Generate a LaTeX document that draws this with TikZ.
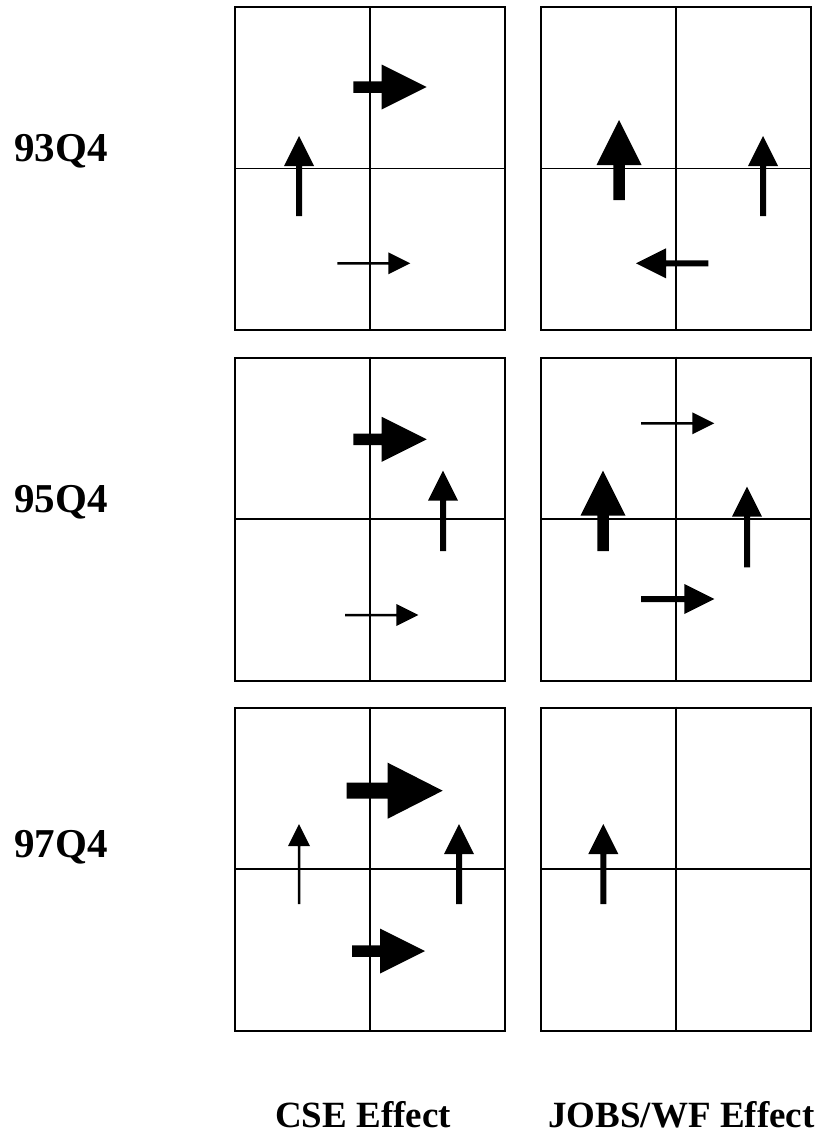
\documentclass[tikz,border=0pt]{standalone}
\usepackage{fontspec}
\setmainfont{Liberation Serif}
% block arrow: tail (#1,#2), direction #3 (degrees), total length #4,
% shaft width #5, head half-width #6, head length #7
\newcommand{\blockarrow}[7]{%
  \fill[arrowbody, shift={(#1,#2)}, rotate=#3]
    (0,{-#5/2}) -- ({#4-#7},{-#5/2}) -- ({#4-#7},{-#6}) -- (#4,0)
    -- ({#4-#7},{#6}) -- ({#4-#7},{#5/2}) -- (0,{#5/2}) -- cycle;}
% four arrow weights
\newcommand{\effarrowS}[4]{\blockarrow{#1}{#2}{#3}{#4}{2.5}{11}{22}}
\newcommand{\effarrowM}[4]{\blockarrow{#1}{#2}{#3}{#4}{6}{15}{30}}
\newcommand{\effarrowL}[4]{\blockarrow{#1}{#2}{#3}{#4}{11.5}{22.5}{45}}
\newcommand{\effarrowXL}[4]{\blockarrow{#1}{#2}{#3}{#4}{16}{28}{55}}
\begin{document}
\begin{tikzpicture}[x=1pt,y=-1pt,
  panel/.style={draw=black, line width=2pt, minimum width=270pt,
    minimum height=323pt, inner sep=0pt},
  divider/.style={line width=1.5pt},
  rowlabel/.style={font=\fontsize{41}{41}\selectfont\bfseries,
    inner sep=0pt, anchor=base west},
  collabel/.style={font=\fontsize{37}{37}\selectfont\bfseries,
    inner sep=0pt, anchor=base},
  arrowbody/.style={fill=black}]

\useasboundingbox (0,0) rectangle (821,1138);

% quadrant panels
\node[panel] (c1) at (370,168.5) {};
\node[panel] (j1) at (676,168.5) {};
\node[panel] (c2) at (370,519) {};
\node[panel] (j2) at (676,519) {};
\node[panel] (c3) at (370,869) {};
\node[panel] (j3) at (676,869) {};

\foreach \p in {c1,j1,c2,j2,c3,j3}{
  \draw[divider] (\p.north) -- (\p.south);
  \draw[divider] (\p.west) -- (\p.east);
}

% row labels
\node[rowlabel] (r1) at (14,161) {93Q4};
\node[rowlabel] (r2) at (14,512.7) {95Q4};
\node[rowlabel] (r3) at (14,857.3) {97Q4};

% column labels
\node[collabel] (cse) at (363,1127) {CSE Effect};
\node[collabel] (jobs) at (681.5,1127) {JOBS/WF Effect};

% 93Q4, CSE
\effarrowL{353.3}{87}{0}{73.4}
\effarrowM{299}{216}{90}{80}
\effarrowS{337.3}{263.3}{0}{73}
% 93Q4, JOBS/WF
\effarrowL{619}{200}{90}{80}
\effarrowM{763}{216}{90}{80}
\effarrowM{708.3}{263.3}{180}{72.3}
% 95Q4, CSE
\effarrowL{353.3}{439.3}{0}{73.4}
\effarrowM{443}{551}{90}{80.3}
\effarrowS{345}{615}{0}{73.3}
% 95Q4, JOBS/WF
\effarrowS{641}{423.3}{0}{73.3}
\effarrowL{603}{551}{90}{80.3}
\effarrowM{747}{567.3}{90}{80.6}
\effarrowM{641}{599}{0}{73.3}
% 97Q4, CSE
\effarrowXL{346.7}{790.7}{0}{96}
\effarrowS{299}{904}{90}{80}
\effarrowM{459}{904}{90}{80}
\effarrowL{352}{951}{0}{73}
% 97Q4, JOBS/WF
\effarrowM{603.3}{904}{90}{80}

\end{tikzpicture}
\end{document}
